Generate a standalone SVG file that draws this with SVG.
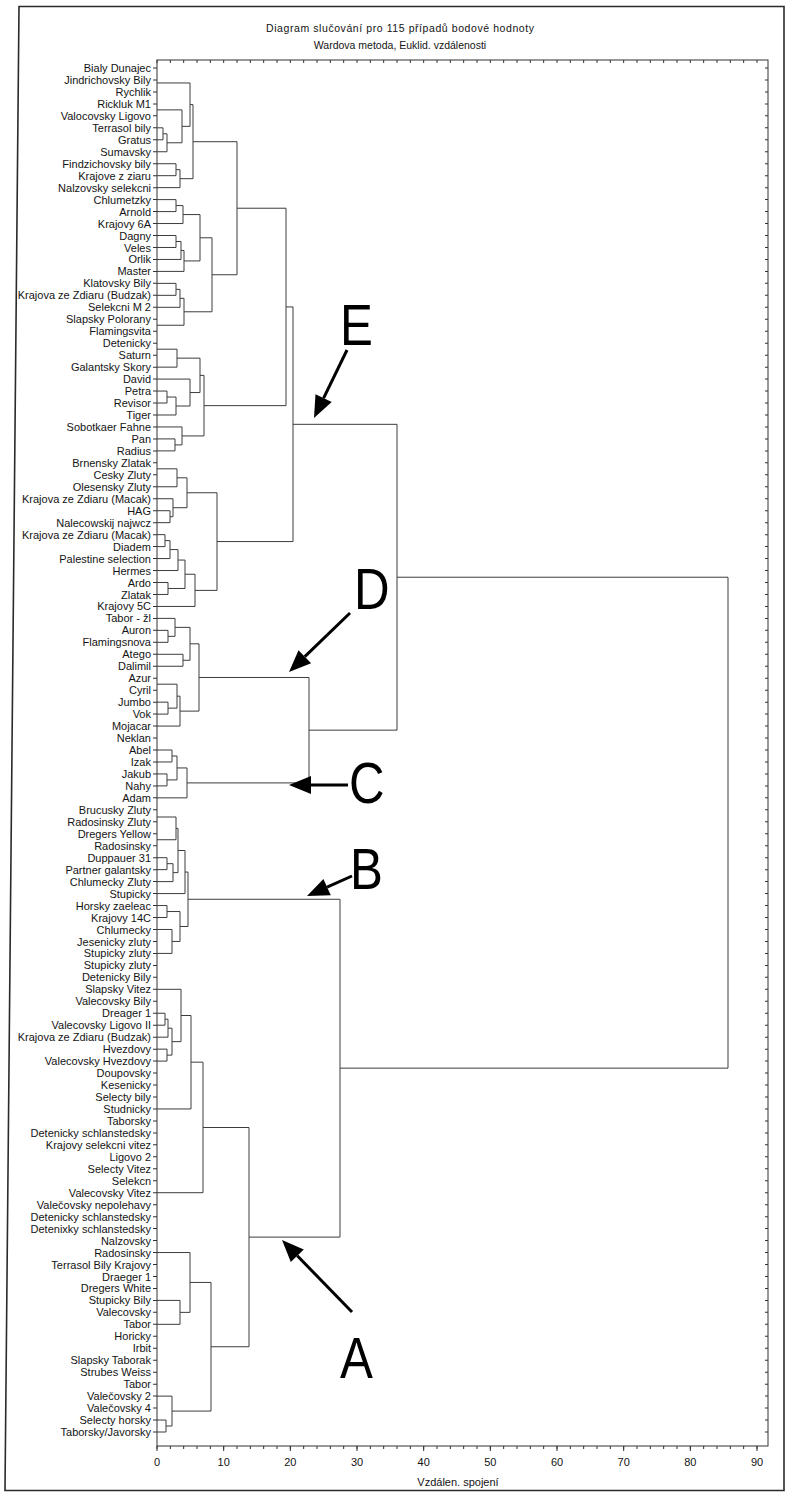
<svg xmlns="http://www.w3.org/2000/svg" width="786" height="1495" viewBox="0 0 786 1495">
<style>
text{font-family:"Liberation Sans",Arial,sans-serif;fill:#141414}
.lb{font-size:11px;text-anchor:end}
.ax{font-size:11px;text-anchor:middle}
.tt{font-size:10.5px;text-anchor:middle}
.big{font-size:58px;fill:#000}
.dn path{fill:none;stroke:#3c3c3c;stroke-width:1;vector-effect:non-scaling-stroke}
.fr{fill:none;stroke:#333;stroke-width:1}
.tk{stroke:#333;fill:none}
.arr{stroke:#000;stroke-width:3;fill:none}
.ah{fill:#000}
</style>
<rect width="786" height="1495" fill="#fff"/>
<path d="M19 6.5 H784 V1490.5 H5 Z" fill="none" stroke="#2a2a2a" stroke-width="1.6"/>
<g id="title">
<text class="tt" x="400" y="32" textLength="268" lengthAdjust="spacing">Diagram slučování pro 115 případů bodové hodnoty</text>
<text class="tt" x="400" y="49">Wardova metoda, Euklid. vzdálenosti</text>
</g>
<g id="frame">
<rect class="fr" x="157" y="60" width="611" height="1386"/>
<line class="tk" x1="155" y1="67.5" x2="155" y2="1437" stroke-width="4" stroke-dasharray="1 10.965"/>
<line class="tk" x1="766.5" y1="67.5" x2="766.5" y2="1437" stroke-width="3" stroke-dasharray="1 10.965"/>
<line class="tk" x1="156.5" y1="61.5" x2="768" y2="61.5" stroke-width="3" stroke-dasharray="1 12.333"/>
<line class="tk" x1="156.5" y1="1447.5" x2="768" y2="1447.5" stroke-width="3" stroke-dasharray="1 12.333"/>
<line class="tk" x1="156.5" y1="1448.5" x2="768" y2="1448.5" stroke-width="5" stroke-dasharray="1 65.667"/>
</g>
<g id="axis-labels">
<text class="ax" x="157" y="1466">0</text>
<text class="ax" x="223.7" y="1466">10</text>
<text class="ax" x="290.3" y="1466">20</text>
<text class="ax" x="357" y="1466">30</text>
<text class="ax" x="423.7" y="1466">40</text>
<text class="ax" x="490.3" y="1466">50</text>
<text class="ax" x="557" y="1466">60</text>
<text class="ax" x="623.7" y="1466">70</text>
<text class="ax" x="690.3" y="1466">80</text>
<text class="ax" x="757" y="1466">90</text>
<text class="ax" x="458" y="1486">Vzdálen. spojení</text>
</g>
<g id="leaves" class="lb">
<text x="151" y="72">Bialy Dunajec</text>
<text x="151" y="84">Jindrichovsky Bily</text>
<text x="151" y="95.9">Rychlik</text>
<text x="151" y="107.9">Rickluk M1</text>
<text x="151" y="119.9">Valocovsky Ligovo</text>
<text x="151" y="131.8">Terrasol bily</text>
<text x="151" y="143.8">Gratus</text>
<text x="151" y="155.8">Sumavsky</text>
<text x="151" y="167.7">Findzichovsky bily</text>
<text x="151" y="179.7">Krajove z ziaru</text>
<text x="151" y="191.7">Nalzovsky selekcni</text>
<text x="151" y="203.6">Chlumetzky</text>
<text x="151" y="215.6">Arnold</text>
<text x="151" y="227.6">Krajovy 6A</text>
<text x="151" y="239.5">Dagny</text>
<text x="151" y="251.5">Veles</text>
<text x="151" y="263.4">Orlik</text>
<text x="151" y="275.4">Master</text>
<text x="151" y="287.4">Klatovsky Bily</text>
<text x="151" y="299.3">Krajova ze Zdiaru (Budzak)</text>
<text x="151" y="311.3">Selekcni M 2</text>
<text x="151" y="323.3">Slapsky Polorany</text>
<text x="151" y="335.2">Flamingsvita</text>
<text x="151" y="347.2">Detenicky</text>
<text x="151" y="359.2">Saturn</text>
<text x="151" y="371.1">Galantsky Skory</text>
<text x="151" y="383.1">David</text>
<text x="151" y="395.1">Petra</text>
<text x="151" y="407">Revisor</text>
<text x="151" y="419">Tiger</text>
<text x="151" y="431">Sobotkaer Fahne</text>
<text x="151" y="442.9">Pan</text>
<text x="151" y="454.9">Radius</text>
<text x="151" y="466.9">Brnensky Zlatak</text>
<text x="151" y="478.8">Cesky Zluty</text>
<text x="151" y="490.8">Olesensky Zluty</text>
<text x="151" y="502.7">Krajova ze Zdiaru (Macak)</text>
<text x="151" y="514.7">HAG</text>
<text x="151" y="526.7">Nalecowskij najwcz</text>
<text x="151" y="538.6">Krajova ze Zdiaru (Macak)</text>
<text x="151" y="550.6">Diadem</text>
<text x="151" y="562.6">Palestine selection</text>
<text x="151" y="574.5">Hermes</text>
<text x="151" y="586.5">Ardo</text>
<text x="151" y="598.5">Zlatak</text>
<text x="151" y="610.4">Krajovy 5C</text>
<text x="151" y="622.4">Tabor - žl</text>
<text x="151" y="634.4">Auron</text>
<text x="151" y="646.3">Flamingsnova</text>
<text x="151" y="658.3">Atego</text>
<text x="151" y="670.3">Dalimil</text>
<text x="151" y="682.2">Azur</text>
<text x="151" y="694.2">Cyril</text>
<text x="151" y="706.2">Jumbo</text>
<text x="151" y="718.1">Vok</text>
<text x="151" y="730.1">Mojacar</text>
<text x="151" y="742">Neklan</text>
<text x="151" y="754">Abel</text>
<text x="151" y="766">Izak</text>
<text x="151" y="777.9">Jakub</text>
<text x="151" y="789.9">Nahy</text>
<text x="151" y="801.9">Adam</text>
<text x="151" y="813.8">Brucusky Zluty</text>
<text x="151" y="825.8">Radosinsky Zluty</text>
<text x="151" y="837.8">Dregers Yellow</text>
<text x="151" y="849.7">Radosinsky</text>
<text x="151" y="861.7">Duppauer 31</text>
<text x="151" y="873.7">Partner galantsky</text>
<text x="151" y="885.6">Chlumecky Zluty</text>
<text x="151" y="897.6">Stupicky</text>
<text x="151" y="909.6">Horsky zaeleac</text>
<text x="151" y="921.5">Krajovy 14C</text>
<text x="151" y="933.5">Chlumecky</text>
<text x="151" y="945.5">Jesenicky zluty</text>
<text x="151" y="957.4">Stupicky zluty</text>
<text x="151" y="969.4">Stupicky zluty</text>
<text x="151" y="981.3">Detenicky Bily</text>
<text x="151" y="993.3">Slapsky Vitez</text>
<text x="151" y="1005.3">Valecovsky Bily</text>
<text x="151" y="1017.2">Dreager 1</text>
<text x="151" y="1029.2">Valecovsky Ligovo II</text>
<text x="151" y="1041.2">Krajova ze Zdiaru (Budzak)</text>
<text x="151" y="1053.1">Hvezdovy</text>
<text x="151" y="1065.1">Valecovsky Hvezdovy</text>
<text x="151" y="1077.1">Doupovsky</text>
<text x="151" y="1089">Kesenicky</text>
<text x="151" y="1101">Selecty bily</text>
<text x="151" y="1113">Studnicky</text>
<text x="151" y="1124.9">Taborsky</text>
<text x="151" y="1136.9">Detenicky schlanstedsky</text>
<text x="151" y="1148.9">Krajovy selekcni vitez</text>
<text x="151" y="1160.8">Ligovo 2</text>
<text x="151" y="1172.8">Selecty Vitez</text>
<text x="151" y="1184.8">Selekcn</text>
<text x="151" y="1196.7">Valecovsky Vitez</text>
<text x="151" y="1208.7">Valečovsky nepolehavy</text>
<text x="151" y="1220.6">Detenicky schlanstedsky</text>
<text x="151" y="1232.6">Detenixky schlanstedsky</text>
<text x="151" y="1244.6">Nalzovsky</text>
<text x="151" y="1256.5">Radosinsky</text>
<text x="151" y="1268.5">Terrasol Bily Krajovy</text>
<text x="151" y="1280.5">Draeger 1</text>
<text x="151" y="1292.4">Dregers White</text>
<text x="151" y="1304.4">Stupicky Bily</text>
<text x="151" y="1316.4">Valecovsky</text>
<text x="151" y="1328.3">Tabor</text>
<text x="151" y="1340.3">Horicky</text>
<text x="151" y="1352.3">Irbit</text>
<text x="151" y="1364.2">Slapsky Taborak</text>
<text x="151" y="1376.2">Strubes Weiss</text>
<text x="151" y="1388.2">Tabor</text>
<text x="151" y="1400.1">Valečovsky 2</text>
<text x="151" y="1412.1">Valečovsky 4</text>
<text x="151" y="1424.1">Selecty horsky</text>
<text x="151" y="1436">Taborsky/Javorsky</text>
</g>
<g id="connectors" class="dn" transform="matrix(1 0 0 11.965 0 68)">
<path d="M157 1.25H190V4.875H182"/>
<path d="M157 5H163V6H157"/>
<path d="M163 5.5H167V7H157"/>
<path d="M157 3.5H182V6.25H167"/>
<path d="M157 8H176V9H157"/>
<path d="M176 8.5H180V10H157"/>
<path d="M190 3.06H193V9.25H180"/>
<path d="M157 11H176V12H157"/>
<path d="M176 11.5H183V13H157"/>
<path d="M157 14H176V15H157"/>
<path d="M176 14.5H181V16H157"/>
<path d="M181 15.25H184V17H157"/>
<path d="M183 12.25H200V16.125H184"/>
<path d="M157 18H176V19H157"/>
<path d="M176 18.5H180V20H157"/>
<path d="M180 19.25H184V21.5H157"/>
<path d="M200 14.19H212V20.375H184"/>
<path d="M193 6.16H237V17.28H212"/>
<path d="M157 23.5H177V25H157"/>
<path d="M157 27H167V28H157"/>
<path d="M167 27.5H176V29H157"/>
<path d="M157 26H190V28.25H176"/>
<path d="M177 24.25H200V27.125H190"/>
<path d="M157 31H175V32H157"/>
<path d="M157 30H182V31.5H175"/>
<path d="M200 25.69H204V30.75H182"/>
<path d="M237 11.72H286V28.22H204"/>
<path d="M157 33.5H177V35H157"/>
<path d="M157 37H170V38H157"/>
<path d="M157 36H173V37.5H170"/>
<path d="M177 34.25H187V36.75H173"/>
<path d="M157 39H165V40H157"/>
<path d="M165 39.5H170V41H157"/>
<path d="M170 40.25H178V42H157"/>
<path d="M157 43H168V44H157"/>
<path d="M178 41.125H185V43.5H168"/>
<path d="M185 42.31H195V45H157"/>
<path d="M187 35.5H217V43.66H195"/>
<path d="M286 19.97H293V39.58H217"/>
<path d="M157 47H168V48H157"/>
<path d="M157 46H175V47.5H168"/>
<path d="M157 49H183V50H157"/>
<path d="M175 46.75H190V49.5H183"/>
<path d="M157 53H168V54H157"/>
<path d="M157 51.5H177V53.5H168"/>
<path d="M177 52.5H180V55H157"/>
<path d="M190 48.125H199V53.75H180"/>
<path d="M157 57H172V58H157"/>
<path d="M157 59H167V60H157"/>
<path d="M172 57.5H177V59.5H167"/>
<path d="M177 58.5H187V61H157"/>
<path d="M199 50.94H309V59.75H187"/>
<path d="M293 29.78H397V55.34H309"/>
<path d="M157 62.6H176V64.5H157"/>
<path d="M157 66H167V67H157"/>
<path d="M167 66.5H173V68H157"/>
<path d="M176 63.55H178V67.25H173"/>
<path d="M178 65.4H185V69H157"/>
<path d="M157 70H167V71H157"/>
<path d="M157 72H172V74H157"/>
<path d="M167 70.5H180V73H172"/>
<path d="M185 67.2H188V71.75H180"/>
<path d="M157 79H165V80H157"/>
<path d="M165 79.5H168V81H157"/>
<path d="M157 82H167V83H157"/>
<path d="M168 80.25H172V82.5H167"/>
<path d="M157 77H181V81.375H172"/>
<path d="M181 79.19H191V87H157"/>
<path d="M191 83.09H203V94H157"/>
<path d="M157 103H180V105H157"/>
<path d="M157 99H190V104H180"/>
<path d="M157 113H166V114H157"/>
<path d="M157 111H172V113.5H166"/>
<path d="M190 101.5H211V112.25H172"/>
<path d="M203 88.55H249V106.875H211"/>
<path d="M188 69.475H340V97.71H249"/>
<path d="M397 42.56H728V83.59H340"/>
</g>
<g id="mark-E">
<text class="big" transform="translate(340 345) scale(0.85 1)">E</text>
<path class="arr" d="M347 350L323.6 398.2"/>
<polygon class="ah" points="314,418 331.7,402.1 315.5,394.3"/>
</g>
<g id="mark-D">
<text class="big" transform="translate(354 609) scale(0.85 1)">D</text>
<path class="arr" d="M350 613L304.8 656.7"/>
<polygon class="ah" points="289,672 311.1,663.2 298.5,650.2"/>
</g>
<g id="mark-C">
<text class="big" transform="translate(349 803) scale(0.85 1)">C</text>
<path class="arr" d="M348 785H310"/>
<polygon class="ah" points="289,785 311,776 311,794"/>
</g>
<g id="mark-B">
<text class="big" transform="translate(350 889) scale(0.85 1)">B</text>
<path class="arr" d="M352 876L327.1 887.1"/>
<polygon class="ah" points="307,896 330.8,895.3 323.4,878.9"/>
</g>
<g id="mark-A">
<text class="big" transform="translate(340 1378) scale(0.85 1)">A</text>
<path class="arr" d="M352 1312L297.3 1255.8"/>
<polygon class="ah" points="282,1240 303.8,1249.5 290.8,1262.1"/>
</g>
</svg>
